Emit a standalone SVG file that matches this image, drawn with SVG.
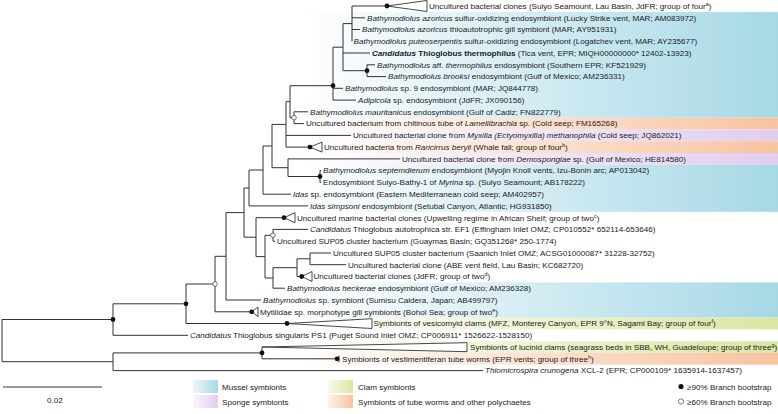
<svg xmlns="http://www.w3.org/2000/svg" width="778" height="414" viewBox="0 0 778 414">
<defs>
<style>
.t{font-family:"Liberation Sans",Arial,sans-serif;font-size:8.1px;fill:#222}
.i{font-style:italic}
.b{font-weight:bold}
.br{stroke:#333;stroke-width:1;fill:none}
.tri{stroke:#333;stroke-width:0.9;fill:#fff}
.dot{fill:#111}
.wdot{fill:#fff;stroke:#555;stroke-width:0.8}
.sup{font-size:5.4px}
</style>
<linearGradient id="gB" gradientUnits="userSpaceOnUse" x1="300" y1="0" x2="778" y2="0"><stop offset="0" stop-color="#a6d8e6" stop-opacity="0"/><stop offset="1" stop-color="#a6d8e6"/></linearGradient>
<linearGradient id="gP" gradientUnits="userSpaceOnUse" x1="300" y1="0" x2="778" y2="0"><stop offset="0" stop-color="#e2cdee" stop-opacity="0"/><stop offset="1" stop-color="#e2cdee"/></linearGradient>
<linearGradient id="gO" gradientUnits="userSpaceOnUse" x1="300" y1="0" x2="778" y2="0"><stop offset="0" stop-color="#f8c3a0" stop-opacity="0"/><stop offset="1" stop-color="#f8c3a0"/></linearGradient>
<linearGradient id="gG" gradientUnits="userSpaceOnUse" x1="300" y1="0" x2="778" y2="0"><stop offset="0" stop-color="#dbe6a2" stop-opacity="0"/><stop offset="1" stop-color="#dbe6a2"/></linearGradient>
<linearGradient id="sB" x1="0" y1="0" x2="1" y2="0"><stop offset="0" stop-color="#a6d8e6" stop-opacity="0.2"/><stop offset="1" stop-color="#a6d8e6"/></linearGradient>
<linearGradient id="sP" x1="0" y1="0" x2="1" y2="0"><stop offset="0" stop-color="#e2cdee" stop-opacity="0.2"/><stop offset="1" stop-color="#e2cdee"/></linearGradient>
<linearGradient id="sO" x1="0" y1="0" x2="1" y2="0"><stop offset="0" stop-color="#f8c3a0" stop-opacity="0.2"/><stop offset="1" stop-color="#f8c3a0"/></linearGradient>
<linearGradient id="sG" x1="0" y1="0" x2="1" y2="0"><stop offset="0" stop-color="#dbe6a2" stop-opacity="0.2"/><stop offset="1" stop-color="#dbe6a2"/></linearGradient>
</defs>
<rect width="778" height="414" fill="#fff"/>
<g id="bands">
<rect x="0" y="11.9" width="778" height="105.8" fill="url(#gB)"/>
<rect x="0" y="117.7" width="778" height="11.8" fill="url(#gO)"/>
<rect x="0" y="129.5" width="778" height="11.7" fill="url(#gP)"/>
<rect x="0" y="141.2" width="778" height="11.8" fill="url(#gO)"/>
<rect x="0" y="153" width="778" height="11.8" fill="url(#gP)"/>
<rect x="0" y="164.8" width="778" height="47" fill="url(#gB)"/>
<rect x="0" y="282.4" width="778" height="35.2" fill="url(#gB)"/>
<rect x="0" y="317.6" width="778" height="11.8" fill="url(#gG)"/>
<rect x="0" y="341.2" width="778" height="11.7" fill="url(#gG)"/>
<rect x="0" y="352.9" width="778" height="11.8" fill="url(#gO)"/>
</g>
<g id="connectors" class="br">
<path d="M352,6H387M352,17.8H365M352,29.5H360M352,6V41.3M343,23.6H352M343,53H370M367,64.8V76.6M367,64.8H375M367,76.6H386M343,70.7H367M343,23.6V70.7"/>
<path d="M333,47.2H343M333,47.2V100.1M333,88.3H343M333,100.1H356M290,85.7H333M290,85.7V117.7M290,117.7H294M294,111.8V123.6M294,111.8H308M294,123.6H304"/>
<path d="M286,101.7H290M286,101.7V147.1M286,135.4H351M286,147.1H310M272,124.4H286M272,124.4V167.7M272,167.7H288M288,158.9V176.5M288,158.9H400M288,176.5H320M320,170.6V182.4M320,170.6H321M320,182.4H321"/>
<path d="M263,146H272M263,146V194.2M263,194.2H291M249,170H263M249,170V205.9M249,205.9H308M244,188H249M244,188V237.2M244,237.2H256M256,217.7V256.6M256,217.7H284"/>
<path d="M256,256.6H265M265,235.3V278M265,235.3H273M265,278H273M273,229.4V241.2M273,229.4H308M273,241.2H275M273,267.7V288.2M273,288.2H285M273,267.7H297M297,258.8V276.5M297,258.8H310M297,276.5H301.7M310,253V264.7M310,253H331M310,264.7H346"/>
<path d="M226,212.6H244M226,212.6V300M226,300H261M215,256.3H226M215,256.3V311.8M215,311.8H251.7M186,284H215M186,284V323.5M186,323.5H287M113,303.8H186M113,303.8V335.3M113,335.3H188"/>
<path d="M262,347V358.8M262,358.8H337M113,352.9H262M113,352.9V370.6M113,370.6H483M2,319.5H113M2,361.7H113M2,319.5V361.7"/>
</g>
<g id="nodes">
<circle class="dot" cx="367" cy="70.7" r="2.4"/>
<circle class="dot" cx="333" cy="85.7" r="2.4"/>
<circle class="wdot" cx="294" cy="117.7" r="2.3"/>
<circle class="dot" cx="320" cy="176.5" r="2.4"/>
<circle class="wdot" cx="273" cy="235.3" r="2.3"/>
<circle class="wdot" cx="215" cy="284" r="2.3"/>
<circle class="dot" cx="186" cy="303.8" r="2.4"/>
<circle class="dot" cx="113" cy="319.5" r="2.4"/>
<circle class="dot" cx="262" cy="352.9" r="2.4"/>
</g>
<g id="leaf1"><polygon class="tri" points="387,6 427,0.5 427,11.5"/><circle class="dot" cx="387" cy="6" r="2.4"/><text class="t" x="429" y="8.8">Uncultured bacterial clones (Suiyo Seamount, Lau Basin, JdFR; group of four<tspan class="sup" baseline-shift="super">a</tspan>)</text></g>
<g id="leaf2"><text class="t" x="367" y="20.6"><tspan class="i">Bathymodiolus azoricus</tspan> sulfur-oxidizing endosymbiont (Lucky Strike vent, MAR; AM083972)</text></g>
<g id="leaf3"><text class="t" x="362" y="32.3"><tspan class="i">Bathymodiolus azoricus</tspan> thioautotrophic gill symbiont (MAR; AY951931)</text></g>
<g id="leaf4"><text class="t" x="353.5" y="44.1"><tspan class="i">Bathymodiolus puteoserpentis</tspan> sulfur-oxidizing endosymbiont (Logatchev vent, MAR; AY235677)</text></g>
<g id="leaf5"><text class="t" x="372" y="55.8"><tspan class="b i">Candidatus</tspan><tspan class="b"> Thioglobus thermophilus</tspan> (Tica vent, EPR; MIQH00000000* 12402-13923)</text></g>
<g id="leaf6"><text class="t" x="377" y="67.6"><tspan class="i">Bathymodiolus</tspan> aff. <tspan class="i">thermophilus</tspan> endosymbiont (Southern EPR; KF521929)</text></g>
<g id="leaf7"><text class="t" x="388" y="79.4"><tspan class="i">Bathymodiolus brooksi</tspan> endosymbiont (Gulf of Mexico; AM236331)</text></g>
<g id="leaf8"><text class="t" x="345" y="91.1"><tspan class="i">Bathymodiolus</tspan> sp. 9 endosymbiont (MAR; JQ844778)</text></g>
<g id="leaf9"><text class="t" x="358" y="102.9"><tspan class="i">Adipicola</tspan> sp. endosymbiont (JdFR; JX090156)</text></g>
<g id="leaf10"><text class="t" x="310" y="114.6"><tspan class="i">Bathymodiolus mauritanicus</tspan> endosymbiont (Gulf of Cadiz; FN822779)</text></g>
<g id="leaf11"><text class="t" x="306" y="126.4">Uncultured bacterium from chitinous tube of <tspan class="i">Lamellibrachia</tspan> sp. (Cold seep; FM165268)</text></g>
<g id="leaf12"><text class="t" x="353" y="138.2">Uncultured bacterial clone from <tspan class="i">Myxilla (Ectyomyxilla) methanophila</tspan> (Cold seep; JQ862021)</text></g>
<g id="leaf13"><polygon class="tri" points="310,147.1 322,142.1 322,152.1"/><circle class="dot" cx="310" cy="147.1" r="2.4"/><text class="t" x="324" y="149.9">Uncultured bacteria from <tspan class="i">Raricirrus beryli</tspan> (Whale fall; group of four<tspan class="sup" baseline-shift="super">b</tspan>)</text></g>
<g id="leaf14"><text class="t" x="402" y="161.7">Uncultured bacterial clone from <tspan class="i">Demospongiae</tspan> sp. (Gulf of Mexico; HE814580)</text></g>
<g id="leaf15"><text class="t" x="323" y="173.4"><tspan class="i">Bathymodiolus septemdierum</tspan> endosymbiont (Myojin Knoll vents, Izu-Bonin arc; AP013042)</text></g>
<g id="leaf16"><text class="t" x="323" y="185.2">Endosymbiont Suiyo-Bathy-1 of <tspan class="i">Myrina</tspan> sp. (Suiyo Seamount; AB178222)</text></g>
<g id="leaf17"><text class="t" x="293" y="197"><tspan class="i">Idas</tspan> sp. endosymbiont (Eastern Mediterranean cold seep; AM402957)</text></g>
<g id="leaf18"><text class="t" x="310" y="208.7"><tspan class="i">Idas simpsoni</tspan> endosymbiont (Setubal Canyon, Atlantic; HG931850)</text></g>
<g id="leaf19"><polygon class="tri" points="284,217.7 295,212.7 295,222.7"/><circle class="dot" cx="284" cy="217.7" r="2.4"/><text class="t" x="297" y="220.5">Uncultured marine bacterial clones (Upwelling regime in African Shelf; group of two<tspan class="sup" baseline-shift="super">c</tspan>)</text></g>
<g id="leaf20"><text class="t" x="310" y="232.2"><tspan class="i">Candidatus</tspan> Thioglobus autotrophica str. EF1 (Effingham Inlet OMZ; CP010552* 652114-653646)</text></g>
<g id="leaf21"><text class="t" x="277" y="244">Uncultured SUP05 cluster bacterium (Guaymas Basin; GQ351268* 250-1774)</text></g>
<g id="leaf22"><text class="t" x="333" y="255.8">Uncultured SUP05 cluster bacterium (Saanich Inlet OMZ; ACSG01000087* 31228-32752)</text></g>
<g id="leaf23"><text class="t" x="348" y="267.5">Uncultured bacterial clone (ABE vent field, Lau Basin; KC682720)</text></g>
<g id="leaf24"><polygon class="tri" points="301.7,276.5 312,271.5 312,281.5"/><circle class="dot" cx="301.7" cy="276.5" r="2.4"/><text class="t" x="313.5" y="279.3">Uncultured bacterial clones (JdFR; group of two<tspan class="sup" baseline-shift="super">d</tspan>)</text></g>
<g id="leaf25"><text class="t" x="287" y="291"><tspan class="i">Bathymodiolus heckerae</tspan> endosymbiont (Gulf of Mexico; AM236328)</text></g>
<g id="leaf26"><text class="t" x="263" y="302.8"><tspan class="i">Bathymodiolus</tspan> sp. symbiont (Sumisu Caldera, Japan; AB499797)</text></g>
<g id="leaf27"><polygon class="tri" points="251.7,311.8 258,307 258,316.6"/><circle class="dot" cx="251.7" cy="311.8" r="2.4"/><text class="t" x="260" y="314.6">Mytilidae sp. morphotype gill symbionts (Bohol Sea; group of two<tspan class="sup" baseline-shift="super">e</tspan>)</text></g>
<g id="leaf28"><polygon class="tri" points="287,323.5 372,318.7 372,328.5"/><circle class="dot" cx="287" cy="323.5" r="2.4"/><text class="t" x="373.5" y="326.3">Symbionts of vesicomyid clams (MFZ, Monterey Canyon, EPR 9°N, Sagami Bay; group of four<tspan class="sup" baseline-shift="super">f</tspan>)</text></g>
<g id="leaf29"><text class="t" x="190" y="338.1"><tspan class="i">Candidatus</tspan> Thioglobus singularis PS1 (Puget Sound Inlet OMZ; CP006911* 1526622-1528150)</text></g>
<g id="leaf30"><polygon class="tri" points="262,347 467,342.7 467,351.7"/><text class="t" x="470" y="349.8">Symbionts of lucinid clams (seagrass beds in SBB, WH, Guadeloupe; group of three<tspan class="sup" baseline-shift="super">g</tspan>)</text></g>
<g id="leaf31"><path class="br" d="M339,355.5V362.2"/><circle class="dot" cx="337" cy="358.8" r="2.4"/><text class="t" x="342" y="361.6">Symbionts of vestimentiferan tube worms (EPR vents; group of three<tspan class="sup" baseline-shift="super">h</tspan>)</text></g>
<g id="leaf32"><text class="t" x="485" y="373.4"><tspan class="i">Thiomicrospira crunogena</tspan> XCL-2 (EPR; CP000109* 1635914-1637457)</text></g>
<g id="scale"><path class="br" d="M3,387H102"/><text class="t" x="55" y="403" text-anchor="middle">0.02</text></g>
<g id="legend">
<rect x="193" y="380" width="25" height="13" fill="url(#sB)"/>
<text class="t" x="222" y="389.5">Mussel symbionts</text>
<rect x="193" y="395" width="25" height="13" fill="url(#sP)"/>
<text class="t" x="222" y="404.5">Sponge symbionts</text>
<rect x="328" y="380" width="25" height="13" fill="url(#sG)"/>
<text class="t" x="358" y="389.5">Clam symbionts</text>
<rect x="328" y="395" width="25" height="13" fill="url(#sO)"/>
<text class="t" x="358" y="404.5">Symbionts of tube worms and other polychaetes</text>
<circle class="dot" cx="681" cy="386.5" r="2.6"/>
<text class="t" x="687" y="389.5">≥90% Branch bootstrap</text>
<circle class="wdot" cx="681" cy="401.5" r="2.6"/>
<text class="t" x="687" y="404.5">≥60% Branch bootstrap</text>
</g>
</svg>
